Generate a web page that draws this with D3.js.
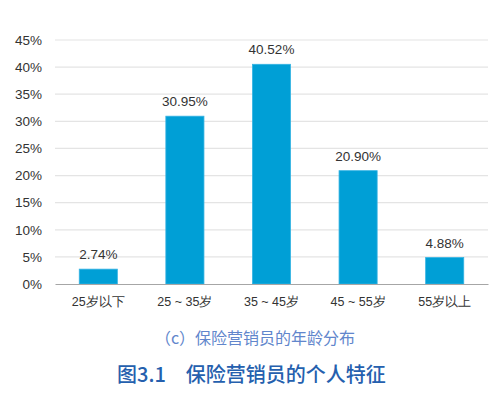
<!DOCTYPE html>
<html>
<head>
<meta charset="utf-8">
<script src="https://cdn.jsdelivr.net/npm/d3@7"></script>
<style>
  body { margin: 0; background: #fff; }
  svg { display: block; font-family: "Noto Sans CJK SC", "Liberation Sans", sans-serif; }
</style>
</head>
<body>
<svg id="chart" width="499" height="408"></svg>
<script>
// age groups and their share of insurance agents (%)
const categories = ["25岁以下", "25 ~ 35岁", "35 ~ 45岁", "45 ~ 55岁", "55岁以上"];
const shares = [2.74, 30.95, 40.52, 20.90, 4.88];
const yTicks = [0, 5, 10, 15, 20, 25, 30, 35, 40, 45];

const subCaption = "（c）保险营销员的年龄分布";
const figTitle = "图3.1\u3000保险营销员的个人特征";

const svg = d3.select("#chart");
const margin = { top: 40, right: 11, bottom: 124, left: 55 };
const width = 499 - margin.left - margin.right;
const height = 408 - margin.top - margin.bottom;

const g = svg.append("g").attr("transform", `translate(${margin.left},${margin.top})`);

const x = d3.scaleBand()
  .domain(categories)
  .range([0, width])
  .paddingInner(0.56)
  .paddingOuter(0.28);

const y = d3.scaleLinear().domain([0, 45]).range([height, 0]);

// gridlines
g.append("g")
  .selectAll("line")
  .data(yTicks.filter((d) => d > 0))
  .enter()
  .append("line")
  .attr("x1", 0)
  .attr("x2", width)
  .attr("y1", (d) => y(d))
  .attr("y2", (d) => y(d))
  .attr("stroke", "#e4e4e4")
  .attr("stroke-width", 1.2);

// y axis labels
const yAxis = g.append("g")
  .call(d3.axisLeft(y).tickValues(yTicks).tickFormat((d) => d + "%").tickSize(0).tickPadding(13));
yAxis.select(".domain").remove();
yAxis.selectAll("text")
  .attr("fill", "#333")
  .attr("font-size", "13.5px")
  .attr("font-family", "Liberation Sans, Arial, sans-serif");

// bars
g.append("g")
  .selectAll("rect")
  .data(shares)
  .enter()
  .append("rect")
  .attr("x", (d, i) => x(categories[i]))
  .attr("y", (d) => y(d))
  .attr("width", x.bandwidth())
  .attr("height", (d) => height - y(d))
  .attr("fill", "#009fd6")
  .attr("stroke", "#35b3e3")
  .attr("stroke-width", 0.8);

// value labels
g.append("g")
  .selectAll("text")
  .data(shares)
  .enter()
  .append("text")
  .attr("x", (d, i) => x(categories[i]) + x.bandwidth() / 2)
  .attr("y", (d) => y(d) - 10)
  .attr("text-anchor", "middle")
  .attr("font-size", "13.5px")
  .attr("font-family", "Liberation Sans, Arial, sans-serif")
  .attr("fill", "#333")
  .text((d) => d.toFixed(2) + "%");

// x axis
const xAxis = g.append("g")
  .attr("transform", `translate(0,${height})`)
  .call(d3.axisBottom(x).tickSize(0).tickPadding(13));
xAxis.select(".domain").attr("stroke", "#a6a6a6").attr("stroke-width", 1.2);
xAxis.selectAll("text")
  .attr("fill", "#333")
  .attr("font-size", "12.5px");

// captions
svg.append("text")
  .attr("x", 255)
  .attr("y", 344)
  .attr("text-anchor", "middle")
  .attr("font-size", "16px")
  .attr("fill", "#6186cc")
  .text(subCaption);

svg.append("text")
  .attr("x", 251.5)
  .attr("y", 382)
  .attr("text-anchor", "middle")
  .attr("font-size", "20px")
  .attr("font-weight", "500")
  .attr("fill", "#2560ae")
  .text(figTitle);
</script>
</body>
</html>
